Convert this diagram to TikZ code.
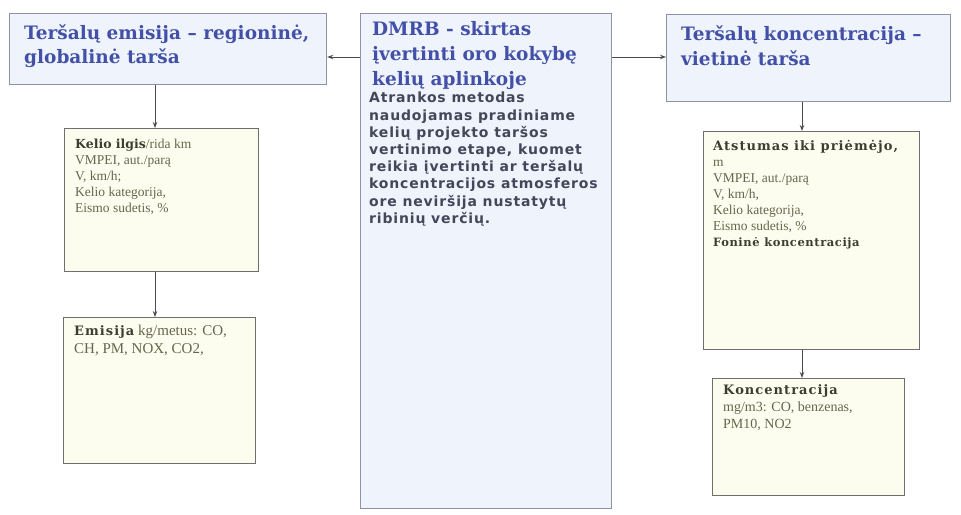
\documentclass[tikz,border=0pt]{standalone}
\usepackage{fontspec}
\setmainfont{DejaVu Serif}
\setsansfont{DejaVu Sans}
\newfontfamily\bodyfont[LetterSpace=6]{DejaVu Sans}
\newfontfamily\lowfont{Liberation Serif}
\newfontfamily\headfont[LetterSpace=8]{DejaVu Serif}
\newfontfamily\headfontb[LetterSpace=5]{DejaVu Serif}
\usetikzlibrary{arrows.meta}
\definecolor{topfill}{HTML}{EFF3FC}
\definecolor{topline}{HTML}{8E92A8}
\definecolor{lowfill}{HTML}{FDFDEF}
\definecolor{lowline}{HTML}{6E6E6E}
\definecolor{titleblue}{HTML}{4250A8}
\definecolor{bodygray}{HTML}{45465A}
\definecolor{lowtext}{HTML}{66664E}
\definecolor{lowbold}{HTML}{3E3E30}
\definecolor{arrowcol}{HTML}{4A4A55}
\begin{document}
\begin{tikzpicture}[x=1pt,y=-1pt,
  topbox/.style={draw=topline,line width=1.2pt,fill=topfill,rectangle,anchor=north west,inner sep=0pt},
  lowbox/.style={draw=lowline,line width=1pt,fill=lowfill,rectangle,anchor=north west,inner sep=0pt},
  titletext/.style={anchor=north west,inner sep=0pt,align=left,text=titleblue,font=\bfseries\fontsize{18.5}{23.5}\selectfont},
  bodytext/.style={anchor=north west,inner sep=0pt,align=left,text=bodygray,font=\bodyfont\bfseries\fontsize{14}{17.2}\selectfont},
  lowtextstyle/.style={anchor=north west,inner sep=0pt,align=left,text=lowtext,font=\lowfont\fontsize{14}{16}\selectfont},
  arr/.style={draw=arrowcol,line width=1pt,-{Stealth[length=6pt,width=4.5pt]}}]
\useasboundingbox (0,0) rectangle (961,514);
% boxes
\node[topbox,minimum width=317pt,minimum height=71pt] (b1) at (9,13) {};
\node[topbox,minimum width=251pt,minimum height=495pt] (c) at (360,13) {};
\node[topbox,minimum width=284pt,minimum height=87pt] (r1) at (666,14) {};
\node[lowbox,minimum width=194pt,minimum height=143pt] (b2) at (64,128) {};
\node[lowbox,minimum width=192pt,minimum height=146pt] (b3) at (63,317) {};
\node[lowbox,minimum width=216pt,minimum height=218pt] (r2) at (703,131) {};
\node[lowbox,minimum width=192pt,minimum height=117pt] (r3) at (712,378) {};
% texts
\node[titletext] (t1) at (24,25) {Teršalų emisija – regioninė,\\globalinė tarša};
\node[titletext,font=\bfseries\fontsize{18.5}{25}\selectfont] (tc) at (372,21) {DMRB - skirtas\\įvertinti oro kokybę\\kelių aplinkoje};
\node[bodytext] (bc) at (369,92) {Atrankos metodas\\naudojamas pradiniame\\kelių projekto taršos\\vertinimo etape, kuomet\\reikia įvertinti ar teršalų\\koncentracijos atmosferos\\ore neviršija nustatytų\\ribinių verčių.};
\node[titletext,font=\bfseries\fontsize{18.5}{25}\selectfont] (tr) at (681,26) {Teršalų koncentracija –\\vietinė tarša};
\node[lowtextstyle,font=\lowfont\fontsize{13.5}{16}\selectfont] (tb2) at (75,139) {{\color{lowbold}\bfseries\fontsize{12.5}{15}\selectfont\rmfamily Kelio ilgis}/rida km\\VMPEI, aut./parą\\V, km/h;\\Kelio kategorija,\\Eismo sudetis, \%};
\node[lowtextstyle,font=\lowfont\fontsize{15}{18}\selectfont] (tb3) at (74,325) {{\color{lowbold}\headfont\bfseries\fontsize{13}{15}\selectfont Emisija} kg/metus: CO,\\CH, PM, NOX, CO2,};
\node[lowtextstyle,font=\lowfont\fontsize{13.5}{16}\selectfont] (tr2) at (713,140) {{\color{lowbold}\headfont\bfseries\fontsize{13}{15}\selectfont Atstumas iki priėmėjo,}\\m\\VMPEI, aut./parą\\V, km/h,\\Kelio kategorija,\\Eismo sudetis, \%\\{\color{lowbold}\headfontb\bfseries\fontsize{11.5}{15}\selectfont Foninė koncentracija}};
\node[lowtextstyle,font=\lowfont\fontsize{14}{17}\selectfont] (tr3) at (723,384) {{\color{lowbold}\headfont\bfseries\fontsize{13}{15}\selectfont Koncentracija}\\mg/m3: CO, benzenas,\\PM10, NO2};
% connectors
\coordinate (lx) at (155,0);
\coordinate (rx) at (802,0);
\draw[arr] ([yshift=-44pt]c.north west) -- ([yshift=-44pt]c.north west -| b1.east);
\draw[arr] ([yshift=-44pt]c.north east) -- ([yshift=-44pt]c.north east -| r1.west);
\draw[arr] (b1.south -| lx) -- (b2.north -| lx);
\draw[arr] (b2.south -| lx) -- (b3.north -| lx);
\draw[arr] (r1.south -| rx) -- (r2.north -| rx);
\draw[arr] (r2.south -| rx) -- (r3.north -| rx);
\end{tikzpicture}
\end{document}
